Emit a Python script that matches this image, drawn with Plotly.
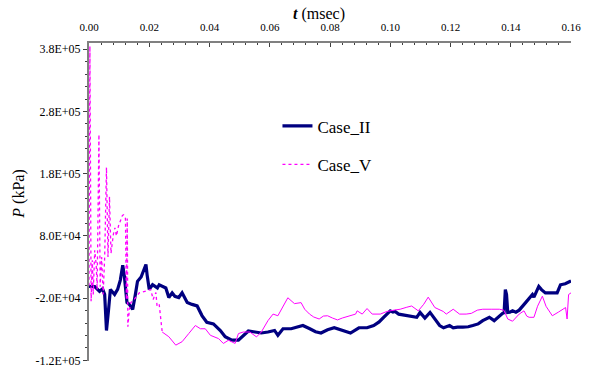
import plotly.graph_objects as go

# ---- data (t in msec, P in kPa) ----
t_case2 = [0.0000, 0.0019, 0.0035, 0.0045, 0.0052, 0.0058, 0.0065, 0.0071, 0.0085, 0.0095,
           0.0104, 0.0112, 0.0117, 0.0126, 0.0134, 0.0145, 0.0154, 0.0161, 0.0173, 0.0183,
           0.0189, 0.0193, 0.0200, 0.0211, 0.0227, 0.0233, 0.0255, 0.0265, 0.0276, 0.0285,
           0.0298, 0.0309, 0.0326, 0.0342, 0.0359, 0.0375, 0.0391, 0.0413, 0.0436, 0.0452,
           0.0474, 0.0496, 0.0512, 0.0529, 0.0551, 0.0572, 0.0594, 0.0616, 0.0627, 0.0644,
           0.0671, 0.0693, 0.0710, 0.0733, 0.0752, 0.0770, 0.0792, 0.0814, 0.0841, 0.0868,
           0.0896, 0.0923, 0.0945, 0.0963, 0.0978, 0.1000, 0.1009, 0.1016, 0.1028, 0.1038,
           0.1061, 0.1088, 0.1099, 0.1115, 0.1132, 0.1147, 0.1164, 0.1177, 0.1186, 0.1197,
           0.1209, 0.1223, 0.1241, 0.1259, 0.1274, 0.1292, 0.1307, 0.1318, 0.1329, 0.1345,
           0.1358, 0.1373, 0.1378, 0.1382, 0.1386, 0.1390, 0.1397, 0.1406, 0.1417, 0.1428,
           0.1450, 0.1472, 0.1477, 0.1493, 0.1502, 0.1515, 0.1535, 0.1554, 0.1565, 0.1581,
           0.1600]
p_case2 = [-1000, -1500, -9000, -5000, -14000, -72000, -38000, -6000, -14000, -6000,
           9000, 33000, 17000, -27000, -30000, -38000, -14000, 7000, 14000, 25000,
           34000, 17000, -6000, 1500, -3600, 1500, -3600, -19000, -11500, -17000,
           -19000, -11500, -27000, -30000, -32500, -48000, -58700, -61400, -72000, -82000,
           -87600, -87600, -79700, -72800, -74400, -76000, -74400, -71900, -79700, -69200,
           -69200, -65600, -64000, -69200, -74000, -76000, -70800, -67600, -72300, -76000,
           -67600, -67600, -64000, -58200, -50800, -40400, -42500, -41400, -45700, -46700,
           -48800, -50800, -42900, -51900, -42900, -53500, -64000, -67600, -66500, -64000,
           -67600, -66500, -66500, -66000, -64000, -61400, -56200, -53500, -50800, -56200,
           -50300, -44500, -43300, -6300, -14000, -42900, -42500, -40400, -42500, -39300,
           -26800, -14200, -18400, -1100, -6300, -11500, -11500, -11500, 1500, 3100,
           7800]

t_case5 = [0.0000, 0.0003, 0.0007, 0.0011, 0.0014, 0.0019, 0.0024, 0.0027, 0.0033, 0.0037,
           0.0042, 0.0047, 0.0052, 0.0058, 0.0063, 0.0068, 0.0073, 0.0077, 0.0081, 0.0086,
           0.0091, 0.0098, 0.0104, 0.0111, 0.0115, 0.0121, 0.0124, 0.0127, 0.0129, 0.0134,
           0.0139, 0.0150, 0.0167, 0.0189, 0.0205, 0.0213, 0.0222, 0.0226, 0.0233, 0.0243,
           0.0265, 0.0288, 0.0309, 0.0331, 0.0353, 0.0370, 0.0386, 0.0403, 0.0430, 0.0446,
           0.0463, 0.0485, 0.0496, 0.0512, 0.0534, 0.0556, 0.0572, 0.0594, 0.0611, 0.0627,
           0.0644, 0.0660, 0.0682, 0.0704, 0.0716, 0.0732, 0.0746, 0.0764, 0.0778, 0.0792,
           0.0808, 0.0825, 0.0841, 0.0858, 0.0885, 0.0890, 0.0907, 0.0923, 0.0940, 0.0967,
           0.0989, 0.1012, 0.1033, 0.1055, 0.1071, 0.1093, 0.1111, 0.1126, 0.1137, 0.1148,
           0.1176, 0.1186, 0.1209, 0.1230, 0.1252, 0.1269, 0.1289, 0.1307, 0.1335, 0.1362,
           0.1377, 0.1390, 0.1406, 0.1417, 0.1428, 0.1444, 0.1453, 0.1461, 0.1477, 0.1489,
           0.1505, 0.1517, 0.1538, 0.1558, 0.1582, 0.1587, 0.1592, 0.1600]
p_case5 = [0, 385000, -25000, 41000, -14000, 57000, 33000, -6300, 243000, -1600,
           46000, -14000, 46000, 190000, 46000, 143000, 52000, 72000, 83000, 93000,
           80000, 96000, 105000, 113000, 114000, 108000, -22000, 108000, -66000, -38000,
           -27000, -22000, -11500, -8000, -6300, -22000, -11000, -33000, -30000, -74400,
           -82000, -95500, -90000, -77000, -64000, -69200, -69200, -79700, -85000, -92800,
           -87600, -92800, -77000, -74400, -74400, -82300, -74400, -56200, -45600, -48300,
           -33000, -19400, -28800, -27200, -37800, -45600, -50300, -53500, -48800, -48300,
           -51900, -55000, -51900, -49900, -45600, -40400, -45600, -36700, -45600, -45600,
           -41400, -39300, -37800, -34600, -32600, -40400, -29900, -18400, -26800, -35100,
           -41400, -45600, -37800, -45600, -45600, -44500, -39300, -37800, -37800, -37800,
           -39300, -53500, -57100, -51900, -45600, -40400, -48800, -50800, -50800, -33000,
           -16800, -33000, -48300, -42500, -35100, -53500, -14200, -11500]

x_tickvals = [0.00, 0.02, 0.04, 0.06, 0.08, 0.10, 0.12, 0.14, 0.16]
x_ticktext = ["0.00", "0.02", "0.04", "0.06", "0.08", "0.10", "0.12", "0.14", "0.16"]
y_tickvals = [-120000, -20000, 80000, 180000, 280000, 380000]
y_ticktext = ["-1.2E+05", "-2.0E+04", "8.0E+04", "1.8E+05", "2.8E+05", "3.8E+05"]

# early (oscillating) part of Case_V drawn dotted, later part solid
split = 39

NAVY = "#000080"
MAG = "#FF00FF"

fig = go.Figure()
fig.add_trace(go.Scatter(x=t_case2, y=p_case2, mode="lines", name="Case_II",
                         line=dict(color=NAVY, width=3.2), legend="legend"))
fig.add_trace(go.Scatter(x=t_case5[:split + 1], y=p_case5[:split + 1], mode="lines",
                         name="Case_V", line=dict(color=MAG, width=1.3, dash="dot"),
                         legend="legend2"))
fig.add_trace(go.Scatter(x=t_case5[split:], y=p_case5[split:], mode="lines",
                         name="Case_V", showlegend=False,
                         line=dict(color=MAG, width=1)))

xtickfont = dict(family="Liberation Serif", size=11, color="#000000")
ytickfont = dict(family="Liberation Serif", size=12, color="#000000")

fig.update_layout(
    width=589, height=376,
    margin=dict(l=89, r=13, t=43, b=8),
    paper_bgcolor="white", plot_bgcolor="white",
    xaxis=dict(side="top", range=[0, 0.16], tickvals=x_tickvals, ticktext=x_ticktext,
               showline=True, linecolor="#808080", linewidth=2,
               ticks="inside", ticklen=4, tickcolor="#404040", tickwidth=1,
               minor=dict(dtick=0.004, tick0=0, ticks="inside", ticklen=2,
                          tickcolor="#404040", showgrid=False),
               ticklabelstandoff=6,
               showgrid=False, zeroline=False, tickfont=xtickfont),
    yaxis=dict(range=[-121000, 390000], tickvals=y_tickvals, ticktext=y_ticktext,
               showline=True, linecolor="#808080", linewidth=2,
               ticks="outside", ticklen=4, tickcolor="#404040", tickwidth=1,
               minor=dict(dtick=20000, tick0=-120000, ticks="outside", ticklen=2,
                          tickcolor="#404040", showgrid=False),
               showgrid=False, zeroline=False, tickfont=ytickfont),
    legend=dict(x=0.391, y=0.738, xanchor="left", yanchor="middle",
                bgcolor="rgba(0,0,0,0)",
                font=dict(family="Liberation Serif", size=17, color="#000000")),
    legend2=dict(x=0.391, y=0.617, xanchor="left", yanchor="middle",
                 bgcolor="rgba(0,0,0,0)",
                 font=dict(family="Liberation Serif", size=17, color="#000000")),
    showlegend=True,
    annotations=[
        dict(text="<b><i>t</i></b> (msec)", xref="paper", yref="paper",
             x=0.478, y=1.092, xanchor="center", yanchor="middle", showarrow=False,
             font=dict(family="Liberation Serif", size=16, color="#000000")),
        dict(text="<i>P</i> (kPa)", xref="paper", yref="paper", textangle=-90,
             x=-0.146, y=0.525, xanchor="center", yanchor="middle", showarrow=False,
             font=dict(family="Liberation Serif", size=16, color="#000000")),
    ],
)

fig.write_html("out.html",
               config={"displayModeBar": False},
               post_script="document.body.style.margin='0';document.body.style.overflow='hidden';")
